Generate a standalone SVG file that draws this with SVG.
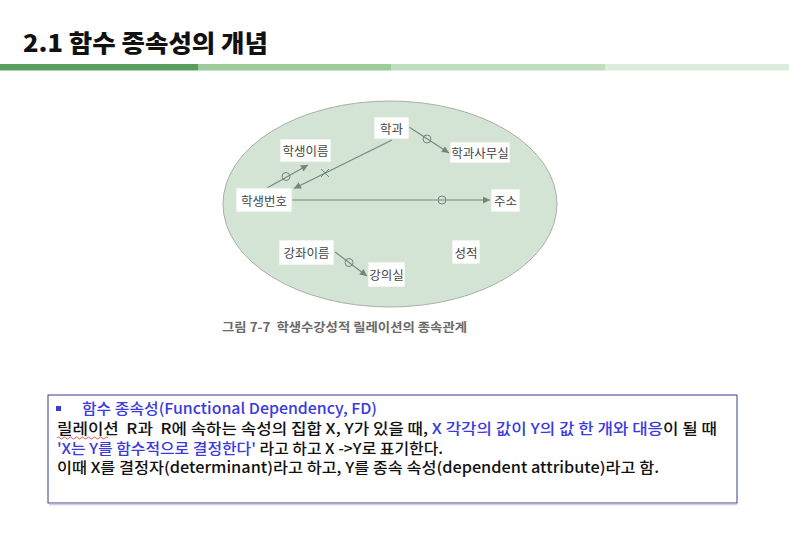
<svg xmlns="http://www.w3.org/2000/svg" width="789" height="555" viewBox="0 0 789 555">
<style>
.title{font-family:"Noto Sans CJK KR","Noto Sans",sans-serif;font-weight:900;font-size:24px;fill:#111}
.node rect{fill:#fff;stroke:#d8e4d8;stroke-width:0.8}
.node text{font-family:"Noto Sans CJK KR","Noto Sans",sans-serif;font-size:12.5px;fill:#444;text-anchor:middle;dominant-baseline:central}
.conn line{stroke:#76857a;stroke-width:1.1;fill:none}
.conn circle{fill:none;stroke:#76857a;stroke-width:1}
.cap{font-family:"Noto Sans CJK KR","Noto Sans",sans-serif;font-weight:700;font-size:12.5px;fill:#6a6a6a;white-space:pre}
.body{font-family:"Noto Sans CJK KR","Noto Sans",sans-serif;font-weight:500;font-size:15px;fill:#111;white-space:pre}
.blue{fill:#3a3ae0}
</style>
<defs>
<marker id="ah" viewBox="0 0 10 10" refX="10" refY="5" markerWidth="8" markerHeight="7" markerUnits="userSpaceOnUse" orient="auto">
<path d="M0,0 L10,5 L0,10 z" fill="#76857a"/>
</marker>
</defs>
<rect width="789" height="555" fill="#fff"/>
<text class="title" x="23" y="52" textLength="245" lengthAdjust="spacingAndGlyphs">2.1 함수 종속성의 개념</text>
<g id="headerbar">
<rect x="0" y="64" width="198" height="6.5" fill="#5a9e5e"/>
<rect x="198" y="64" width="193" height="6.5" fill="#9dcb9b"/>
<rect x="391" y="64" width="214" height="6.5" fill="#bfdebf"/>
<rect x="605" y="64" width="184" height="6.5" fill="#dcebdc"/>
</g>
<ellipse id="relation" cx="390" cy="204" rx="167" ry="103" fill="#d4e4d4" stroke="#a8b0a8" stroke-width="1"/>
<g id="connectors" class="conn">
<line x1="267" y1="188" x2="308" y2="165" marker-end="url(#ah)"/>
<circle cx="286" cy="176.5" r="4"/>
<line x1="392" y1="140" x2="294" y2="188.5" marker-end="url(#ah)"/>
<path d="M321,169 L329,177 M329,169 L321,177" stroke="#76857a" stroke-width="1" fill="none"/>
<line x1="409" y1="127" x2="449" y2="153" marker-end="url(#ah)"/>
<circle cx="427" cy="139" r="4"/>
<line x1="292" y1="200" x2="490" y2="200" marker-end="url(#ah)"/>
<circle cx="442" cy="200" r="4"/>
<line x1="335" y1="252" x2="367" y2="276" marker-end="url(#ah)"/>
<circle cx="349" cy="262.5" r="4"/>
</g>
<g id="n-dept" class="node"><rect x="374" y="117" width="35" height="22"/><text x="391.5" y="128">학과</text></g>
<g id="n-sname" class="node"><rect x="280" y="139" width="51" height="23"/><text x="305.5" y="150.5">학생이름</text></g>
<g id="n-office" class="node"><rect x="450" y="142" width="60" height="21"/><text x="480" y="152.5">학과사무실</text></g>
<g id="n-sno" class="node"><rect x="236" y="188" width="56" height="24"/><text x="264" y="200">학생번호</text></g>
<g id="n-addr" class="node"><rect x="491" y="189" width="29" height="23"/><text x="505.5" y="200.5">주소</text></g>
<g id="n-course" class="node"><rect x="279" y="240" width="55" height="25"/><text x="306.5" y="252.5">강좌이름</text></g>
<g id="n-grade" class="node"><rect x="452" y="240" width="28" height="24"/><text x="466" y="252">성적</text></g>
<g id="n-room" class="node"><rect x="368" y="262" width="37" height="25"/><text x="386.5" y="274.5">강의실</text></g>
<text class="cap" x="222" y="332" textLength="245" lengthAdjust="spacingAndGlyphs">그림 7-7  학생수강성적 릴레이션의 종속관계</text>
<g id="definition">
<rect x="48" y="395" width="689" height="108" fill="#fff" stroke="#3b3b96" stroke-width="1"/>
<line x1="49" y1="504.5" x2="737" y2="504.5" stroke="#cfcfe0" stroke-width="1.5"/>
<rect x="56" y="406" width="5" height="5" fill="#3a3ae0"/>
<text class="body blue" x="82" y="414" textLength="295" lengthAdjust="spacingAndGlyphs">함수 종속성(Functional Dependency, FD)</text>
<text class="body" x="57" y="434" textLength="660" lengthAdjust="spacingAndGlyphs">릴레이션  R과  R에 속하는 속성의 집합 X, Y가 있을 때, <tspan class="blue">X 각각의 값이 Y의 값 한 개와 대응</tspan>이 될 때</text>
<path d="M57,438 q1.5,-2 3,0 t3,0 t3,0 t3,0 t3,0 t3,0 t3,0 t3,0 t3,0 t3,0 t3,0 t3,0 t3,0 t3,0 t3,0 t3,0 t3,0" fill="none" stroke="#e03030" stroke-width="0.8"/>
<text class="body" x="57" y="454" textLength="386" lengthAdjust="spacingAndGlyphs"><tspan class="blue">'X는 Y를 함수적으로 결정한다'</tspan> 라고 하고 X -&gt;Y로 표기한다.</text>
<text class="body" x="57" y="473" textLength="602" lengthAdjust="spacingAndGlyphs">이때 X를 결정자(determinant)라고 하고, Y를 종속 속성(dependent attribute)라고 함.</text>
</g>
</svg>
